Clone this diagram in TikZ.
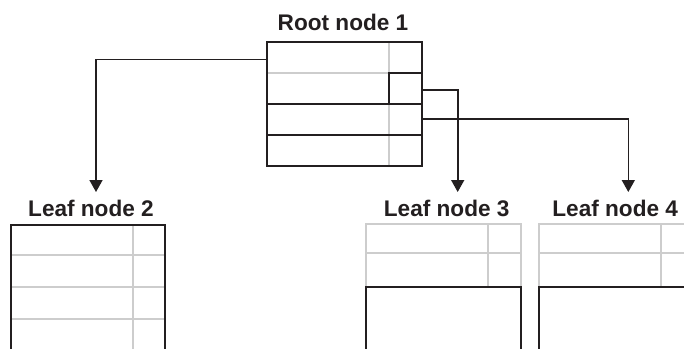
\documentclass[tikz,border=0pt]{standalone}
\usepackage{fontspec}
\setmainfont{Liberation Sans}
\usetikzlibrary{arrows.meta}
\definecolor{ink}{RGB}{35,31,32}
\definecolor{grid}{RGB}{205,205,205}
\tikzset{
  lbl/.style={font=\bfseries\fontsize{22.6}{22.6}\selectfont, text=ink, anchor=base, inner sep=0pt},
  outline/.style={draw=ink, line width=2pt},
  gridline/.style={draw=grid, line width=2pt},
  conn/.style={draw=ink, line width=1.6pt, -{Triangle[width=13pt,length=12pt]}},
  frame/.style={draw=none, inner sep=0pt, minimum width=#1, anchor=north west}
}
\begin{document}
\begin{tikzpicture}[x=1pt,y=-1pt]
\clip (0,0) rectangle (684,348);
\fill[white] (0,0) rectangle (684,348);

% labels
\node[lbl] (lroot) at (343,30) {Root node 1};
\node[lbl] (l2) at (91,216.5) {Leaf node 2};
\node[lbl] (l3) at (446.7,216.5) {Leaf node 3};
\node[lbl] (l4) at (615.2,216.5) {Leaf node 4};

% root node
\node[frame=155pt, minimum height=124pt] (root) at (266.7,42) {};
\draw[gridline] (266.7,73) -- (388.5,73);
\draw[gridline] (388.5,42) -- (388.5,166);
\draw[outline] (266.7,42) rectangle (421.7,166);
\draw[outline] (266.7,104) -- (421.7,104);
\draw[outline] (266.7,135) -- (421.7,135);
\draw[outline] (388.5,104) -- (388.5,73) -- (421.7,73);

% leaf node 2
\node[frame=154pt, minimum height=130pt] (leaf2) at (11,225) {};
\draw[gridline] (11,254.5) -- (165,254.5);
\draw[gridline] (11,287) -- (165,287);
\draw[gridline] (11,318.5) -- (165,318.5);
\draw[gridline] (132.7,225) -- (132.7,352);
\draw[outline] (11,352) -- (11,225) -- (165,225) -- (165,352);

% leaf node 3
\node[frame=155pt, minimum height=130pt] (leaf3) at (365.7,224.3) {};
\draw[gridline] (365.7,224.3) rectangle (520.7,286.7);
\draw[gridline] (365.7,253.3) -- (520.7,253.3);
\draw[gridline] (487.7,224.3) -- (487.7,286.7);
\draw[outline] (365.7,352) -- (365.7,286.7) -- (520.7,286.7) -- (520.7,352);

% leaf node 4
\node[frame=155pt, minimum height=130pt] (leaf4) at (538.7,224.3) {};
\draw[gridline] (693.7,224.3) -- (538.7,224.3) -- (538.7,286.7);
\draw[gridline] (538.7,253.3) -- (693.7,253.3);
\draw[gridline] (660.7,224.3) -- (660.7,286.7);
\draw[outline] (538.7,352) -- (538.7,286.7) -- (693.7,286.7);

% connectors
\coordinate (s2) at (266.7,59.3);
\coordinate (s3) at (421.7,90);
\coordinate (s4) at (421.7,119);
\coordinate (t2) at (96,192);
\coordinate (t3) at (457.7,192);
\coordinate (t4) at (628.3,192);
\draw[conn] (s2) -| (t2);
\draw[conn] (s3) -| (t3);
\draw[conn] (s4) -| (t4);
\end{tikzpicture}
\end{document}
